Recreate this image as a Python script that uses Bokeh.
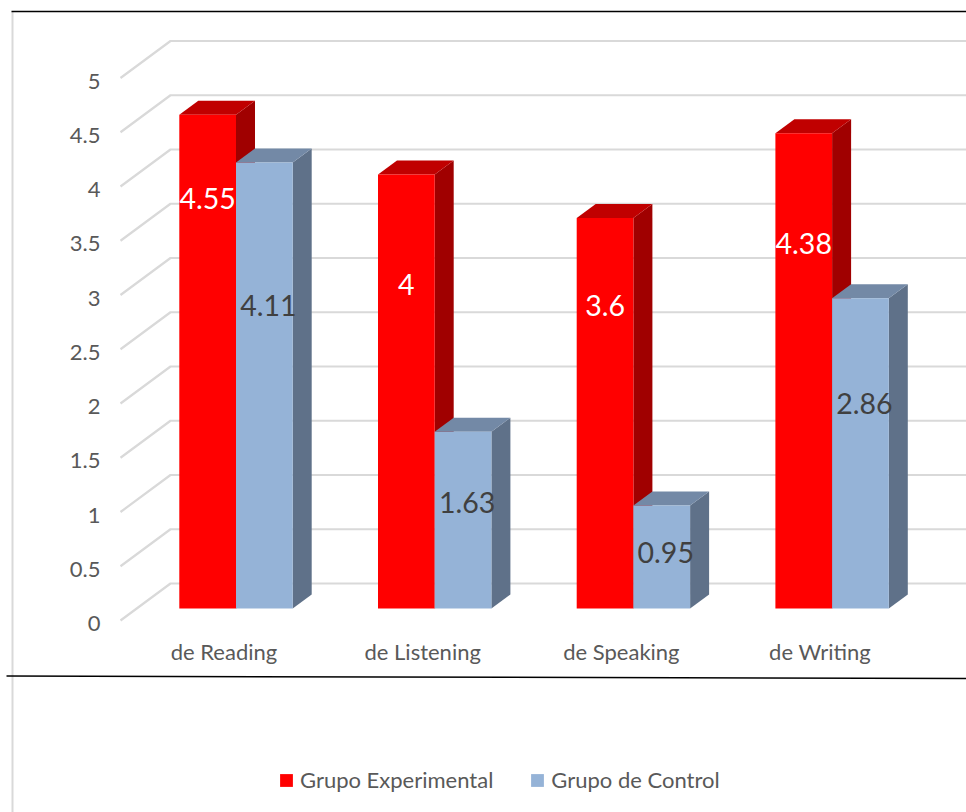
from bokeh.plotting import figure
from bokeh.models import Range1d, LinearAxis, FixedTicker, Legend, LegendItem
from bokeh.embed import file_html
from bokeh.resources import INLINE

categories = ["de Reading", "de Listening", "de Speaking", "de Writing"]
grupo_experimental = [4.55, 4, 3.6, 4.38]
grupo_control = [4.11, 1.63, 0.95, 2.86]
y_ticks = [0, 0.5, 1, 1.5, 2, 2.5, 3, 3.5, 4, 4.5, 5]
y_tick_labels = ["0", "0.5", "1", "1.5", "2", "2.5", "3", "3.5", "4", "4.5", "5"]
series_names = ["Grupo Experimental", "Grupo de Control"]

# distance of each data label below its bar top, in value units
drop_experimental = [0.77, 1.01, 0.81, 1.02]
drop_control = [1.32, 0.65, 0.43, 0.97]

W, H = 966, 812
PX_X, PX_Y = 198.7, 108.5          # pixels per category / per value unit
X0_PX, Y0_PX = 235.5, 608          # figure pixel of category 0 boundary / value 0

def dx(px): return px / PX_X
def dy(px): return px / PX_Y
def X(px): return (px - X0_PX) / PX_X      # figure pixel -> data
def Y(px): return (Y0_PX - px) / PX_Y

p = figure(width=W, height=H, output_backend="svg", toolbar_location=None,
           x_range=Range1d(X(0), X(W)), y_range=Range1d(Y(H), Y(0)),
           min_border=0, outline_line_color=None, background_fill_color="white",
           border_fill_color="white", x_axis_type=None, y_axis_type=None)
p.grid.visible = False

# shifted scales for the axes that sit on the front edge of the 3-D floor
p.extra_y_ranges["wall"] = Range1d(Y(H) + dy(15), Y(0) + dy(15))
p.extra_x_ranges["front"] = Range1d(X(0) + dx(12), X(W) + dx(12))

GRID = "#d9d9d9"
# chart-area frame lines
p.line([X(12), X(12)], [Y(11), Y(H)], line_color=GRID, line_width=2)

# 3-D gridlines
wall_front_x, wall_back_x = X(120), X(170)
xs = [[wall_front_x, wall_back_x, X(W)] for _ in y_ticks]
ys = [[t - dy(12), t + dy(25), t + dy(25)] for t in y_ticks]
p.multi_line(xs, ys, line_color=GRID, line_width=2.2)

p.line([X(11), X(W)], [Y(11), Y(11)], line_color="black", line_width=1.5)

w = dx(56.7)
ddx, ddy = dx(19), dy(14)
series = [
    (grupo_experimental, -w, "#FF0000", "#C00000", "#A00000"),
    (grupo_control, 0.0, "#95B3D7", "#7389A6", "#5F7189"),
]
front_renderers = []
for vals, off, front, top, side in series:
    lefts = [i + off for i in range(len(vals))]
    rights = [l + w for l in lefts]
    p.patches([[r, r + ddx, r + ddx, r] for r in rights],
              [[0, ddy, v + ddy, v] for v in vals],
              fill_color=side, line_color=None)
    p.patches([[l, l + ddx, r + ddx, r] for l, r in zip(lefts, rights)],
              [[v, v + ddy, v + ddy, v] for v in vals],
              fill_color=top, line_color=None)
    front_renderers.append(
        p.vbar(x=[(l + r) / 2 for l, r in zip(lefts, rights)], top=vals, bottom=0, width=w,
               fill_color=front, line_color=None))

# data labels
p.text([i - w / 2 for i in range(4)],
       [v - d for v, d in zip(grupo_experimental, drop_experimental)],
       text=[str(v) for v in grupo_experimental], text_color="white",
       text_font={"value": "Lato"}, text_font_size="28.5px", text_align="center", text_baseline="middle")
p.text([i + w / 2 + dx(4) for i in range(4)],
       [v - d for v, d in zip(grupo_control, drop_control)],
       text=[str(v) for v in grupo_control], text_color="#404040",
       text_font={"value": "Lato"}, text_font_size="28.5px", text_align="center", text_baseline="middle")

# y axis
ya = LinearAxis(y_range_name="wall", fixed_location=X(100),
                ticker=FixedTicker(ticks=y_ticks),
                major_label_overrides=dict(zip(y_ticks, y_tick_labels)),
                axis_line_color=None, major_tick_line_color=None, minor_tick_line_color=None,
                major_tick_in=0, major_tick_out=0, major_label_standoff=0,
                major_label_text_font="Lato", major_label_text_font_size="22px",
                major_label_text_color="#595959")
p.add_layout(ya, "left")

# x axis
xa = LinearAxis(x_range_name="front", fixed_location=Y(637),
                ticker=FixedTicker(ticks=list(range(4))),
                major_label_overrides=dict(enumerate(categories)),
                axis_line_color=None, major_tick_line_color=None, minor_tick_line_color=None,
                major_tick_in=0, major_tick_out=0, major_label_standoff=0,
                major_label_text_font="Lato", major_label_text_font_size="22px",
                major_label_text_color="#595959")
p.add_layout(xa, "below")

p.line([X(6), X(W)], [Y(675.5), Y(678)], line_color="black", line_width=1.5)

legend = Legend(items=[LegendItem(label=n, renderers=[r]) for n, r in zip(series_names, front_renderers)],
                orientation="horizontal", location=(278, 19),
                glyph_width=16, glyph_height=16, label_standoff=6, spacing=36,
                padding=0, margin=0, border_line_color=None, background_fill_alpha=0,
                label_text_font="Lato", label_text_font_size="22px", label_text_color="#595959")
p.add_layout(legend, "center")

open("out.html", "w").write(file_html(p, INLINE))
